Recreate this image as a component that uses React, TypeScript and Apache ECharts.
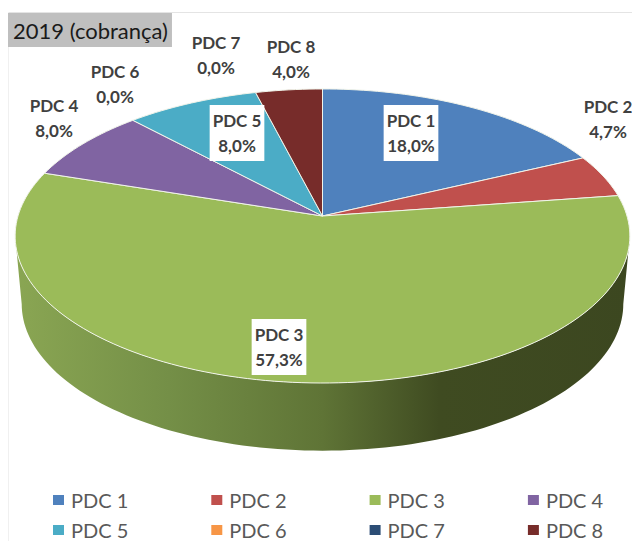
import React, { useEffect, useRef } from "react";
import * as echarts from "echarts";

const titleText = "2019 (cobrança)";
const categories = ["PDC 1", "PDC 2", "PDC 3", "PDC 4", "PDC 5", "PDC 6", "PDC 7", "PDC 8"];
const shares = [18.0, 4.7, 57.3, 8.0, 8.0, 0.0, 0.0, 4.0];
const colors = ["#4f81bd", "#c0504d", "#9bbb59", "#8064a2", "#4bacc6", "#f79646", "#2c4d75", "#772c2a"];
const labelCentres = [[411, 133], [608, 119], [279, 347], [54, 118], [237, 133], [115, 84], [216, 55], [291, 59]];
const boxedLabels = [true, false, true, false, true, false, false, false];

const CX = 322.5;
const TOP = { cy: 216, a: 144.3, b: 304.5 };
const BASE = { cy: 284, a: 144, b: 298 };
const P = 0.136;

const project = (plane: typeof TOP, deg: number): number[] => {
  const t = (deg * Math.PI) / 180;
  const u = Math.sin(t);
  const v = -Math.cos(t);
  const d = 1 - P * v;
  return [CX + (plane.b * u) / d, plane.cy + (plane.a * v) / d];
};

const arc = (plane: typeof TOP, from: number, to: number): number[][] => {
  const n = Math.max(2, Math.ceil(Math.abs(to - from) / 1.5));
  const out: number[][] = [];
  for (let i = 0; i <= n; i++) out.push(project(plane, from + ((to - from) * i) / n));
  return out;
};

const WALL_FROM = 90 + (Math.asin(P) * 180) / Math.PI;
const WALL_TO = 360 - WALL_FROM;

const pct = (v: number) => v.toFixed(1).replace(".", ",") + "%";

const makeRenderItem = (index: number) => (_params: any, api: any) => {
  const value = api.value(0) as number;
  const total = shares.reduce((s, x) => s + x, 0);
  const before = shares.slice(0, index).reduce((s, x) => s + x, 0);
  const start = (before / total) * 360;
  const end = ((before + value) / total) * 360;
  const children: any[] = [];

  const wallStart = Math.max(start, WALL_FROM);
  const wallEnd = Math.min(end, WALL_TO);
  if (value > 0 && wallEnd > wallStart) {
    children.push({
      type: "polygon",
      shape: { points: [...arc(TOP, wallStart, wallEnd), ...arc(BASE, wallEnd, wallStart)] },
      style: {
        fill: new echarts.graphic.LinearGradient(0, 0, 1, 0, [
          { offset: 0, color: "#8aa653" },
          { offset: 0.25, color: "#748f47" },
          { offset: 0.5, color: "#5f7436" },
          { offset: 0.69, color: "#3f4b21" },
          { offset: 1, color: "#3c4720" },
        ]),
        stroke: "none",
      },
    });
  }
  if (value > 0) {
    children.push({
      type: "polygon",
      shape: { points: [[CX, TOP.cy], ...arc(TOP, start, end)] },
      style: { fill: colors[index], stroke: "#f1f4ea", lineWidth: 1 },
    });
  }
  const [lx, ly] = labelCentres[index];
  children.push({
    type: "text",
    z2: 100,
    x: lx,
    y: ly,
    style: {
      text: `${categories[index]}\n${pct(value)}`,
      fontFamily: "Lato",
      fontWeight: "bold",
      fontSize: 17,
      lineHeight: 25,
      fill: "#404040",
      align: "center",
      verticalAlign: "middle",
      backgroundColor: boxedLabels[index] ? "#ffffff" : undefined,
      padding: boxedLabels[index] ? [3, 3, 3, 3] : 0,
    },
  });
  return { type: "group", children };
};

export default function App() {
  const ref = useRef<HTMLDivElement>(null);
  useEffect(() => {
    const chart = echarts.init(ref.current!, undefined, { renderer: "svg" });
    const legendBase = {
      icon: "rect",
      itemWidth: 11,
      itemHeight: 10,
      itemGap: 83,
      left: 53,
      padding: 0,
      orient: "horizontal",
      textStyle: { fontFamily: "Lato", fontSize: 20, lineHeight: 20, color: "#595959", padding: [0, 0, 0, 2] },
    };
    chart.setOption({
      animation: false,
      backgroundColor: "#ffffff",
      title: {
        text: titleText,
        left: 8,
        top: 13,
        padding: [6, 4, 6, 5],
        backgroundColor: "#bfbfbf",
        textStyle: { fontFamily: "Lato", fontWeight: "normal", fontSize: 22, color: "#1a1a1a", lineHeight: 22 },
      },
      graphic: [
        { type: "line", silent: true, shape: { x1: 8, y1: 12.5, x2: 632, y2: 12.5 }, style: { stroke: "#e4e4e4", lineWidth: 1 } },
        { type: "line", silent: true, shape: { x1: 8.5, y1: 12, x2: 8.5, y2: 541 }, style: { stroke: "#f0f0f0", lineWidth: 1 } },
      ],
      legend: [
        { ...legendBase, top: 490, data: categories.slice(0, 4) },
        { ...legendBase, top: 520, data: categories.slice(4) },
      ],
      series: categories.map((name, i) => ({
        type: "custom",
        name,
        coordinateSystem: "none",
        silent: true,
        itemStyle: { color: colors[i] },
        data: [[shares[i]]],
        renderItem: makeRenderItem(i),
      })),
    });
    return () => chart.dispose();
  }, []);
  return <div ref={ref} style={{ position: "fixed", left: 0, top: 0, width: 632, height: 541 }} />;
}
